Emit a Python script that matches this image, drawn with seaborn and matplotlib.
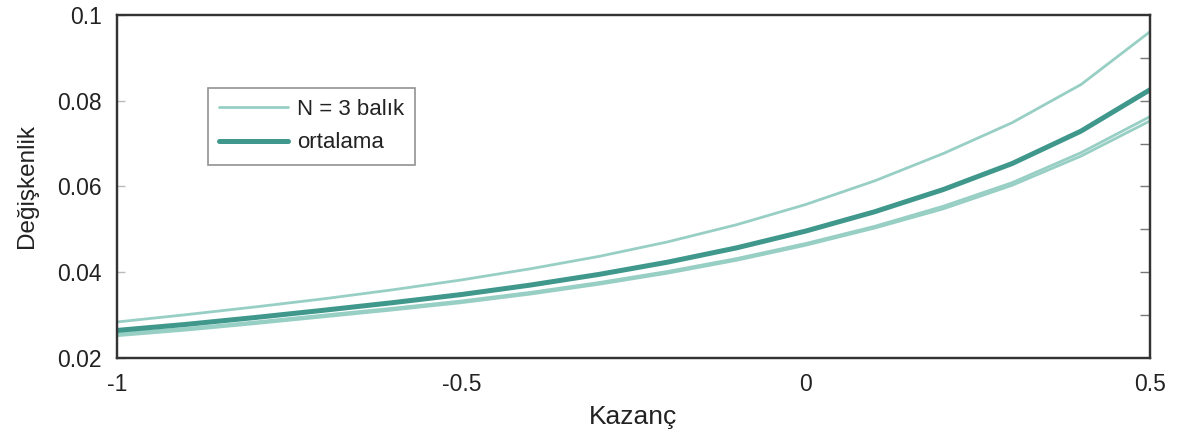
import numpy as np
import pandas as pd
import matplotlib
matplotlib.use("Agg")
import matplotlib.pyplot as plt
import seaborn as sns

# Kazanç değerleri ve her balık için ölçülen değişkenlik
kazanc = [-1.0, -0.9, -0.8, -0.7, -0.6, -0.5, -0.4, -0.3,
          -0.2, -0.1, 0.0, 0.1, 0.2, 0.3, 0.4, 0.5]
balik_1 = [0.0284, 0.0301, 0.0319, 0.0338, 0.0359, 0.0382, 0.0408, 0.0437,
           0.0471, 0.0511, 0.0558, 0.0613, 0.0677, 0.0749, 0.0838, 0.0961]
balik_2 = [0.0257, 0.0269, 0.0284, 0.0300, 0.0316, 0.0333, 0.0353, 0.0376,
           0.0402, 0.0432, 0.0467, 0.0507, 0.0554, 0.0609, 0.0679, 0.0763]
balik_3 = [0.0252, 0.0265, 0.0280, 0.0296, 0.0312, 0.0329, 0.0349, 0.0372,
           0.0398, 0.0428, 0.0463, 0.0503, 0.0548, 0.0603, 0.0671, 0.0753]

x_ticks = [-1, -0.5, 0, 0.5]
x_tick_labels = ["-1", "-0.5", "0", "0.5"]
y_ticks = [0.02, 0.04, 0.06, 0.08, 0.1]
y_tick_labels = ["0.02", "0.04", "0.06", "0.08", "0.1"]

df = pd.DataFrame({
    "Kazanç": kazanc * 3,
    "Değişkenlik": balik_1 + balik_2 + balik_3,
    "balık": ["1"] * len(kazanc) + ["2"] * len(kazanc) + ["3"] * len(kazanc),
})
ortalama = df.groupby("Kazanç", as_index=False)["Değişkenlik"].mean()

sns.set_theme(style="white")
plt.rcParams["font.family"] = ["Liberation Sans", "DejaVu Sans"]

light = "#98cfc5"
dark = "#3f988b"

fig = plt.figure(figsize=(11.79, 4.36), dpi=100)
ax = fig.add_axes([0.0992, 0.1789, 0.8762, 0.7867])

for i, (name, grp) in enumerate(df.groupby("balık")):
    sns.lineplot(data=grp, x="Kazanç", y="Değişkenlik", ax=ax, color=light,
                 linewidth=2.0, label="N = 3 balık" if i == 0 else None,
                 legend=False)
sns.lineplot(data=ortalama, x="Kazanç", y="Değişkenlik", ax=ax, color=dark,
             linewidth=3.6, label="ortalama", legend=False)

ax.set_xlim(-1, 0.5)
ax.set_ylim(0.02, 0.1)
ax.set_xticks(x_ticks)
ax.set_xticklabels(x_tick_labels)
ax.set_yticks(y_ticks)
ax.set_yticklabels(y_tick_labels)
ax.tick_params(axis="both", direction="in", length=6, width=1.0,
               color="#bbbbbb", labelsize=16.5, labelcolor="#222222")
ax.tick_params(axis="x", pad=11)
ax.tick_params(axis="y", pad=11)

# Sağ kenardaki ince bölme çizgileri
ax_r = ax.twinx()
ax_r.set_ylim(0.02, 0.1)
ax_r.set_yticks(np.arange(0.03, 0.095, 0.01))
ax_r.tick_params(axis="y", direction="in", length=7, width=1.0,
                 color="#777777", labelright=False)

for a in (ax, ax_r):
    for side in ("left", "bottom", "top", "right"):
        a.spines[side].set_visible(True)
        a.spines[side].set_color("#333333")
        a.spines[side].set_linewidth(1.6)

ax.set_xlabel("Kazanç", fontsize=19, color="#222222", labelpad=6)
ax.set_ylabel("Değişkenlik", fontsize=17.5, color="#222222", labelpad=14)

leg = ax.legend(loc="upper left", bbox_to_anchor=(0.088, 0.787),
                borderaxespad=0, fontsize=16, frameon=True, fancybox=False,
                handlelength=3.1, borderpad=0.5, labelspacing=0.55,
                handletextpad=0.4)
leg.get_frame().set_edgecolor("#777777")
leg.get_frame().set_linewidth(1.2)
for t in leg.get_texts():
    t.set_color("#222222")

fig.savefig("out.png", dpi=100)
